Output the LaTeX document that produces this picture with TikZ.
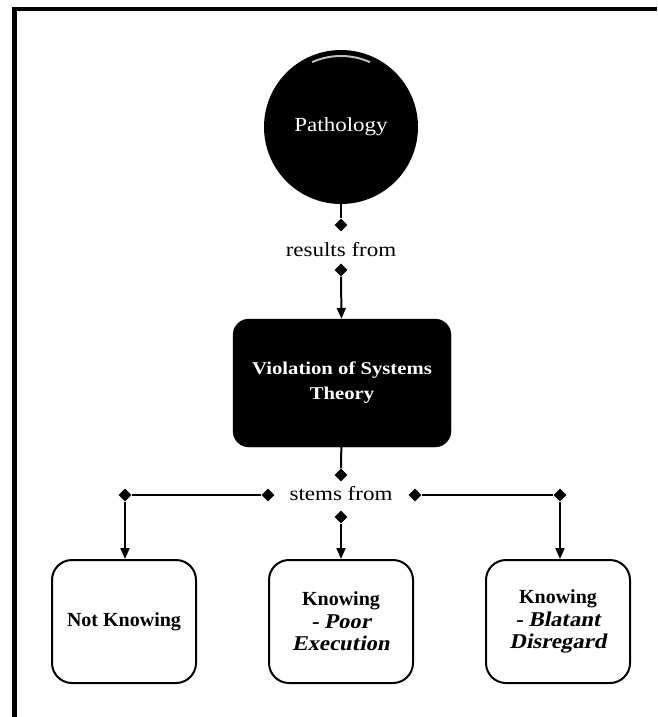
\documentclass[tikz,border=0pt]{standalone}
\usepackage{fontspec}
\setmainfont{Liberation Serif}
\newfontfamily\widefont[FakeStretch=1.15]{Liberation Serif}
\newfontfamily\leanfont[FakeSlant=0.2,FakeStretch=1.08]{Liberation Serif}
\usetikzlibrary{arrows.meta,shapes.geometric}
\newcommand{\slantline}[1]{{\leanfont\bfseries\fontsize{21}{22.5}\selectfont #1}}

\begin{document}
\begin{tikzpicture}[x=1pt,y=-1pt,
  conn/.style={line width=2pt},
  tip/.style={-{Triangle[length=11pt,width=9pt]}},
  dmd/.style={diamond, fill=black, inner sep=0pt, minimum size=13pt},
  topnode/.style={circle, fill=black, minimum size=154pt, inner sep=0pt, text=white,
    font=\widefont\fontsize{20}{24}\selectfont},
  darkbox/.style={rectangle, rounded corners=16pt, fill=black, draw=black,
    minimum width=218pt, minimum height=128pt, text=white, align=center,
    font=\widefont\bfseries\fontsize{18}{25}\selectfont},
  leaf/.style={rectangle, rounded corners=20pt, draw=black, line width=2pt,
    minimum width=144pt, minimum height=123pt, align=center,
    font=\bfseries\fontsize{20}{22.5}\selectfont},
  lbl/.style={font=\widefont\fontsize{20}{24}\selectfont, inner sep=0pt}
]
\useasboundingbox (0,0) rectangle (657,717);

% frame edges
\draw[line width=4.5pt] (14.5,717) -- (14.5,9) -- (657,9);

% main nodes
\node[topnode] (p) at (341,127) {Pathology};
\draw[white!75!black, line width=2pt]
  ([shift={(114:71pt)}]p.center) arc[start angle=114, end angle=66, radius=71pt];

\node[darkbox] (v) at (342,383) {Violation of Systems\\Theory};

\node[leaf] (nk) at (124,621.5) {Not Knowing};
\node[leaf] (pe) at (341,621.5) {Knowing\\\slantline{- Poor}\\\slantline{Execution}};
\node[leaf] (bd) at (558,621.5) {Knowing\\\slantline{- Blatant}\\\slantline{Disregard}};

% link labels
\node[lbl] (rf) at (341,250) {results from};
\node[lbl] (sf) at (341,494) {stems from};

% link markers
\node[dmd] (d1) at (341,225) {};
\node[dmd] (d2) at (341,270) {};
\node[dmd] (d3) at (341,475) {};
\node[dmd] (d4) at (341,517) {};
\node[dmd] (d5) at (268,495) {};
\node[dmd] (d6) at (125,495) {};
\node[dmd] (d7) at (415,495) {};
\node[dmd] (d8) at (560,495) {};

% connectors
\draw[conn] (p) -- (d1);
\draw[conn,tip] (d2) -- (v);
\draw[conn] (v) -- (d3);
\draw[conn,tip] (d4) -- (pe);
\draw[conn] (d5) -- (d6);
\draw[conn,tip] (d6) -- (nk.north -| d6);
\draw[conn] (d7) -- (d8);
\draw[conn,tip] (d8) -- (bd.north -| d8);
\end{tikzpicture}
\end{document}
